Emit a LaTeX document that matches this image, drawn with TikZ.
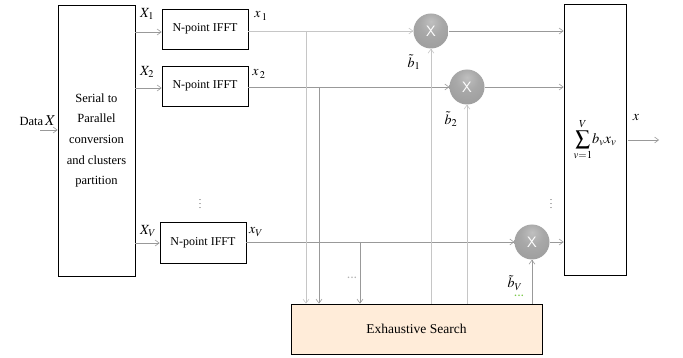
\documentclass[tikz,border=0pt]{standalone}
\usepackage{mathptmx}
\usepackage[no-math]{fontspec}
\setmainfont{Liberation Serif}
\usetikzlibrary{arrows.meta,shadings}
\pgfdeclareradialshading{greyball}{\pgfpoint{0bp}{14bp}}{color(0bp)=(gray!50); color(16bp)=(gray!68); color(40bp)=(gray!80); color(52bp)=(gray); color(64bp)=(black!55)}
\definecolor{dotgreen}{RGB}{120,200,70}
\begin{document}
\begin{tikzpicture}[x=1pt,y=-1pt,
  box/.style={draw=black, line width=0.8pt, inner sep=0pt, fill=white},
  ln/.style={draw=gray!80, line width=0.6pt},
  lnl/.style={draw=gray!45, line width=0.6pt},
  arr/.style={-{Straight Barb[length=4pt,width=6pt]}},
  mult/.style={circle, minimum size=35pt, inner sep=0pt, shading=greyball, text=white, font=\sffamily\fontsize{15}{15}\selectfont},
  lab/.style={inner sep=0pt, font=\fontsize{14}{14}\selectfont},
  dots/.style={inner sep=0pt, font=\bfseries\fontsize{10}{10}\selectfont}]
\useasboundingbox (0,0) rectangle (683,358);
% boxes
\node[box, minimum width=77pt, minimum height=271pt, align=center,
      font=\fontsize{12.5}{20.7}\selectfont] (sp) at (96.5,140.5)
      {Serial to\\Parallel\\conversion\\and clusters\\partition};
\node[box, minimum width=86pt, minimum height=40pt, font=\fontsize{12}{12}\selectfont] (f1) at (205,29) {N-point IFFT};
\node[box, minimum width=86pt, minimum height=40pt, font=\fontsize{12}{12}\selectfont] (f2) at (205,86) {N-point IFFT};
\node[box, minimum width=86pt, minimum height=41pt, font=\fontsize{12}{12}\selectfont] (fv) at (203,242.5) {N-point IFFT};
\node[box, minimum width=62pt, minimum height=271pt, font=\fontsize{14.5}{14.5}\selectfont] (sum) at (595,139.5)
      {$\displaystyle\sum_{v=1}^{V}\!b_v x_v$};
\node[box, fill=orange!15!white, minimum width=251pt, minimum height=50pt,
      font=\fontsize{13.5}{13.5}\selectfont] (es) at (416.5,329) {Exhaustive Search};
% multipliers
\node[mult] (m1) at (431,31) {X};
\node[mult] (m2) at (467,87) {X};
\node[mult] (mv) at (532,242) {X};
% input
\coordinate (din) at (40,130);
\draw[ln,arr] (din) -- (din -| sp.west);
\node[inner sep=0pt, anchor=east, font=\fontsize{12.5}{12.5}\selectfont] (dlab) at (56,121) {Data\,{\fontsize{15}{15}\selectfont$X$}};
% serial -> IFFT
\coordinate (s1) at (135,32);
\coordinate (s2) at (135,88);
\coordinate (sv) at (135,243);
\draw[ln,arr] (s1) -- (s1 -| f1.west);
\draw[ln,arr] (s2) -- (s2 -| f2.west);
\draw[ln,arr] (sv) -- (sv -| fv.west);
\node[lab] (X1) at (147,14) {$X_1$};
\node[lab] (X2) at (147,72) {$X_2$};
\node[lab] (XV) at (148,231) {$X_V$};
% IFFT -> multipliers
\draw[lnl,arr] (f1.east |- m1) -- (m1.west);
\draw[ln,arr] (f2.east |- m2) -- (m2.west);
\draw[ln,arr] (fv.east |- mv) -- (mv.west);
\node[lab] (x1) at (261,16) {$x_{\,1}$};
\node[lab] (x2) at (259,74) {$x_{\,2}$};
\node[lab] (xv) at (256,232) {$x_V$};
% multipliers -> sum
\draw[ln,arr] (m1.east) -- (m1 -| sum.west);
\draw[ln,arr] (m2.east) -- (m2 -| sum.west);
\draw[ln,arr] (mv.east) -- (mv -| sum.west);
% drops to search
\coordinate (d1) at (306,31);
\coordinate (d2) at (319,87);
\coordinate (dv) at (360,242);
\draw[lnl,arr] (d1) -- (d1 |- es.north);
\draw[ln,arr] (d2) -- (d2 |- es.north);
\draw[ln,arr] (dv) -- (dv |- es.north);
\node[dots, text=gray!60] (dd) at (352,278) {.\hspace{0.8pt}.\hspace{0.8pt}.};
% search -> multipliers
\draw[lnl,arr] (es.north -| m1) -- (m1.south);
\draw[lnl,arr] (es.north -| m2) -- (m2.south);
\draw[ln,arr] (es.north -| mv) -- (mv.south);
\node[lab] (b1) at (414,62) {$\tilde{b}_1$};
\node[lab] (b2) at (451,119) {$\tilde{b}_2$};
\node[lab] (bv) at (515,283) {$\tilde{b}_V$};
\node[dots, text=dotgreen] (gd) at (519,296) {.\hspace{0.8pt}.\hspace{0.8pt}.};
% output
\coordinate (o1) at (628,140);
\coordinate (o2) at (659,140);
\draw[ln,arr] (o1) -- (o2);
\node[lab] (xo) at (636,118) {$x$};
% vertical dots
\node[inner sep=0pt, font=\fontsize{8}{8}\selectfont] (vd1) at (200,201) {$\vdots$};
\node[inner sep=0pt, font=\fontsize{8}{8}\selectfont] (vd2) at (551,201) {$\vdots$};
\end{tikzpicture}
\end{document}
